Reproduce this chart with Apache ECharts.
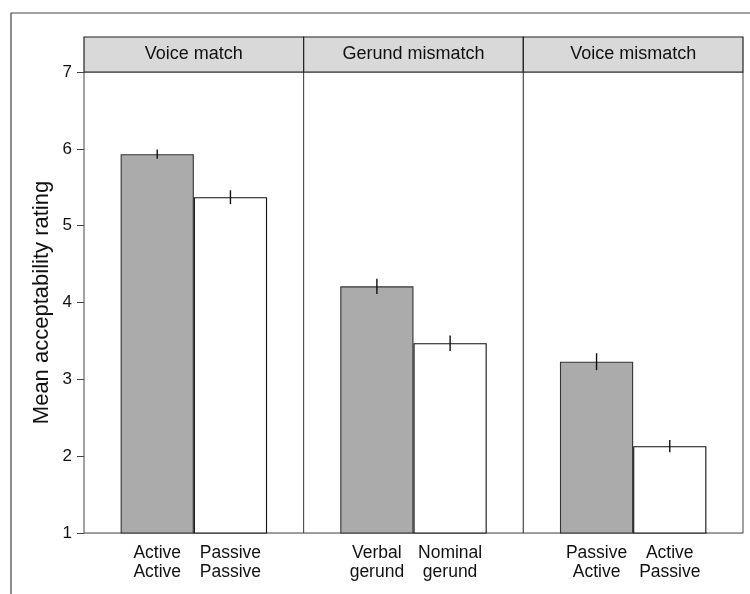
<!DOCTYPE html>
<html>
<head>
<meta charset="utf-8">
<script src="https://cdn.jsdelivr.net/npm/echarts@6/dist/echarts.min.js"></script>
<style>
html,body{margin:0;padding:0;background:#fff;}
#chart{width:750px;height:594px;}
</style>
</head>
<body>
<div id="chart"></div>
<script>
// ---- data ----
const panelTitles = ['Voice match', 'Gerund mismatch', 'Voice mismatch'];
const firstLabels = ['Active\nActive', 'Verbal\ngerund', 'Passive\nActive'];
const secondLabels = ['Passive\nPassive', 'Nominal\ngerund', 'Active\nPassive'];
const firstMeans = [5.93, 4.21, 3.23];
const secondMeans = [5.37, 3.47, 2.13];
const firstErr = [0.06, 0.10, 0.11];
const secondErr = [0.09, 0.10, 0.08];
const yTicks = [1, 2, 3, 4, 5, 6, 7];
const yTitle = 'Mean acceptability rating';

// ---- layout ----
const FONT = '"Liberation Sans", Arial, Helvetica, sans-serif';
const plotLeft = 84, plotRight = 743, plotTop = 72, plotBottom = 533;
const stripH = 35;
const panelW = (plotRight - plotLeft) / 3;
const xMin = 0.4, xMax = 1.6, pos1 = 0.8, pos2 = 1.2;
const barW = panelW * 0.4 / (xMax - xMin);
const grayFill = '#ababab';

const grids = [], xAxes = [], yAxes = [], series = [], graphics = [];

graphics.push({
  type: 'rect', silent: true, z: 0,
  shape: { x: 11, y: 13, width: 900, height: 800 },
  style: { fill: 'none', stroke: '#444', lineWidth: 1.2 }
});

panelTitles.forEach((title, i) => {
  const left = plotLeft + panelW * i;
  grids.push({
    left: left, top: plotTop, width: panelW, height: plotBottom - plotTop,
    show: true, borderColor: '#444', borderWidth: 1, backgroundColor: '#fff'
  });
  const labMap = { [pos1]: firstLabels[i], [pos2]: secondLabels[i] };
  xAxes.push({
    gridIndex: i, type: 'value', min: xMin, max: xMax,
    splitLine: { show: false },
    axisLine: { show: true, lineStyle: { color: '#999', width: 1 } },
    axisTick: { show: false },
    axisLabel: {
      show: true, customValues: [pos1, pos2], margin: 11,
      fontFamily: FONT, fontSize: 17.5, color: '#111', lineHeight: 19,
      formatter: v => labMap[v] !== undefined ? labMap[v] : ''
    }
  });
  yAxes.push({
    gridIndex: i, type: 'value', min: yTicks[0], max: yTicks[yTicks.length - 1], interval: 1,
    splitLine: { show: false },
    axisLine: { show: false },
    axisTick: { show: i === 0, length: 7, lineStyle: { color: '#444' } },
    axisLabel: { show: i === 0, margin: 12, fontFamily: FONT, fontSize: 17, color: '#111' },
    name: i === 0 ? yTitle : '',
    nameLocation: 'middle', nameGap: 31,
    nameTextStyle: { fontFamily: FONT, fontSize: 22, color: '#111' }
  });
  series.push({
    type: 'bar', xAxisIndex: i, yAxisIndex: i, barWidth: barW,
    silent: true,
    data: [
      { value: [pos1, firstMeans[i]], itemStyle: { color: grayFill, borderColor: '#333', borderWidth: 1.1 } },
      { value: [pos2, secondMeans[i]], itemStyle: { color: '#fff', borderColor: '#111', borderWidth: 1.1 } }
    ]
  });
  series.push({
    type: 'custom', xAxisIndex: i, yAxisIndex: i, silent: true, z: 5,
    data: [
      [pos1, firstMeans[i] - firstErr[i], firstMeans[i] + firstErr[i]],
      [pos2, secondMeans[i] - secondErr[i], secondMeans[i] + secondErr[i]]
    ],
    renderItem: (params, api) => {
      const a = api.coord([api.value(0), api.value(1)]);
      const b = api.coord([api.value(0), api.value(2)]);
      return {
        type: 'line',
        shape: { x1: a[0], y1: a[1], x2: b[0], y2: b[1] },
        style: { stroke: '#111', lineWidth: 1.4 }
      };
    }
  });
  graphics.push({
    type: 'group', silent: true, z: 10,
    children: [
      { type: 'rect', shape: { x: left, y: plotTop - stripH, width: panelW, height: stripH },
        style: { fill: '#d9d9d9', stroke: '#222', lineWidth: 1.2 } },
      { type: 'text', x: left + panelW / 2, y: plotTop - stripH / 2,
        style: { text: title, fontFamily: FONT, fontSize: 18, fill: '#111', align: 'center', verticalAlign: 'middle' } }
    ]
  });
});

const chart = echarts.init(document.getElementById('chart'), null, { renderer: 'canvas' });
chart.setOption({
  animation: false,
  backgroundColor: '#fff',
  grid: grids,
  xAxis: xAxes,
  yAxis: yAxes,
  series: series,
  graphic: graphics
});
</script>
</body>
</html>
